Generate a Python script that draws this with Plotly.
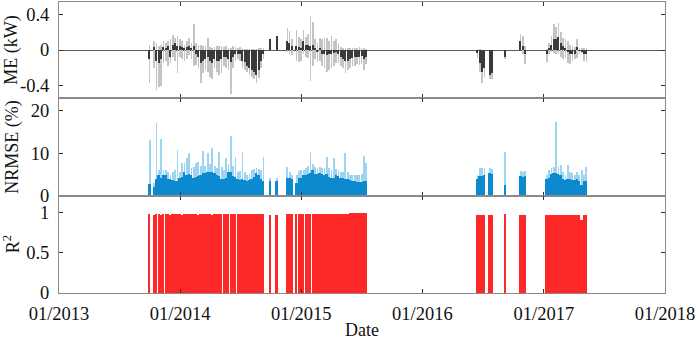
import pandas as pd
import plotly.graph_objects as go
from plotly.subplots import make_subplots

# ---- data (weekly summaries) ----
seg_start = ["2013-09-28", "2014-09-27", "2014-10-16", "2014-11-17",
             "2016-06-12", "2016-07-19", "2016-09-03", "2016-10-20", "2017-01-07"]
seg_weeks = [50, 1, 1, 35, 4, 2, 1, 3, 18]

me_typ = [
    -0.10, None, 0.03, -0.12, -0.15, -0.10, 0.03, 0.02, 0.04, -0.08,
    0.06, 0.08, 0.04, 0.04, 0.03, 0.02, 0.03, 0.05, 0.02, 0.04,
    -0.05, -0.08, -0.15, -0.12, -0.10, -0.08, -0.12, -0.15, -0.10, -0.12,
    -0.12, -0.10, -0.08, -0.08, -0.10, -0.14, -0.08, -0.05, -0.04, -0.05,
    -0.12, -0.14, -0.18, -0.20, -0.22, -0.25, -0.28, -0.22, -0.12, -0.05,
    0.12, 0.16,
    0.10, 0.08, 0.04, None, 0.05, 0.03, 0.02, 0.10, 0.06, 0.06,
    0.05, 0.06, 0.02, -0.02, 0.02, -0.04, -0.04, -0.06, -0.05, -0.04,
    -0.03, -0.02, -0.04, -0.08, -0.10, -0.12, -0.12, -0.10, -0.09, -0.08,
    -0.08, -0.08, -0.07, -0.10, -0.08,
    -0.03, -0.15, -0.25, -0.20,
    -0.28, -0.26,
    -0.08,
    0.10, 0.05, -0.05,
    -0.04, 0.02, 0.06, 0.12, 0.12, 0.15, 0.08, 0.04, 0.02, -0.02,
    -0.04, -0.05, -0.04, 0.03, -0.01, -0.02, -0.04, -0.05,
]
me_pos_peak = [
    0.06, None, 0.10, 0.08, 0.05, 0.06, 0.10, 0.08, 0.10, 0.12,
    0.17, 0.14, 0.16, 0.12, 0.10, 0.06, 0.10, 0.14, 0.08, 0.29,
    0.08, 0.06, 0.06, 0.05, 0.05, 0.14, 0.03, 0.02, 0.03, 0.04,
    0.05, 0.04, 0.03, 0.04, 0.02, 0.02, 0.04, 0.03, 0.02, 0.03,
    0.02, 0.01, 0.01, 0.01, 0.01, 0.01, 0.01, 0.02, 0.02, 0.02,
    0.12, 0.16,
    0.25, 0.21, 0.12, None, 0.23, 0.15, 0.12, 0.23, 0.15, 0.18,
    0.38, 0.31, 0.12, 0.08, 0.14, 0.12, 0.14, 0.14, 0.10, 0.16,
    0.10, 0.12, 0.08, 0.03, 0.02, 0.02, 0.02, 0.02, 0.02, 0.02,
    0.02, 0.03, 0.02, 0.02, 0.01,
    0.01, 0.01, 0.0, 0.0,
    0.0, 0.0,
    0.0,
    0.18, 0.16, 0.05,
    0.01, 0.08, 0.16, 0.29, 0.26, 0.30, 0.20, 0.14, 0.12, 0.10,
    0.06, 0.04, 0.03, 0.12, 0.02, 0.02, 0.02, 0.02,
]
me_neg_peak = [
    -0.37, None, -0.20, -0.45, -0.42, -0.40, -0.15, -0.12, -0.18, -0.15,
    -0.08, -0.12, -0.26, -0.08, -0.10, -0.12, -0.10, -0.06, -0.10, -0.18,
    -0.17, -0.20, -0.37, -0.26, -0.22, -0.25, -0.30, -0.33, -0.20, -0.25,
    -0.28, -0.26, -0.18, -0.20, -0.22, -0.50, -0.20, -0.12, -0.10, -0.12,
    -0.20, -0.22, -0.25, -0.28, -0.30, -0.33, -0.37, -0.32, -0.20, -0.10,
    None, None,
    -0.02, -0.05, -0.06, None, -0.12, -0.14, -0.12, -0.04, -0.08, -0.09,
    -0.35, -0.18, -0.10, -0.14, -0.12, -0.18, -0.20, -0.25, -0.22, -0.20,
    -0.18, -0.15, -0.15, -0.18, -0.20, -0.26, -0.22, -0.20, -0.18, -0.18,
    -0.16, -0.17, -0.16, -0.22, -0.16,
    -0.09, -0.25, -0.37, -0.30,
    -0.33, -0.33,
    -0.10,
    0.0, -0.05, -0.16,
    -0.14, -0.04, -0.02, -0.03, -0.05, -0.05, -0.08, -0.10, -0.09, -0.15,
    -0.16, -0.12, -0.10, -0.09, -0.05, -0.03, -0.12, -0.13,
]
nrmse_typ = [
    2.8, None, 2.0, 3.9, 4.8, 4.3, 5.0, 4.8, 3.9, 3.9,
    3.7, 3.5, 3.4, 4.2, 4.4, 5.6, 4.8, 5.1, 4.8, 4.2,
    4.4, 4.6, 4.8, 5.3, 5.3, 5.7, 5.7, 5.5, 5.3, 4.8,
    4.6, 3.9, 4.0, 4.2, 5.5, 5.7, 4.6, 4.4, 3.9, 3.8,
    3.9, 3.7, 3.5, 3.7, 3.9, 4.4, 5.3, 4.8, 3.9, 3.4,
    3.6, 3.6,
    4.2, 4.2, 3.9, None, 3.0, 4.2, 4.2, 4.8, 4.9, 5.1,
    5.3, 6.1, 5.1, 5.1, 5.3, 5.1, 4.9, 5.1, 4.4, 4.2,
    4.2, 4.8, 4.6, 4.2, 4.2, 4.0, 3.9, 3.7, 3.6, 3.6,
    3.3, 3.2, 3.3, 3.5, 3.5,
    3.9, 4.6, 4.6, 4.8,
    5.3, 5.1,
    2.5,
    4.6, 4.4, 4.6,
    3.9, 4.2, 5.1, 5.3, 5.3, 5.1, 4.8, 3.9, 3.7, 4.0,
    3.9, 3.7, 3.7, 3.9, 3.5, 2.6, 3.5, 3.5,
]
nrmse_peak = [
    13.0, None, 3.0, 16.9, 6.0, 13.2, 6.0, 6.0, 5.5, 5.0,
    5.5, 6.0, 10.7, 5.5, 7.6, 7.6, 8.8, 9.9, 6.5, 6.8,
    7.6, 8.0, 7.0, 10.5, 7.0, 9.9, 7.5, 11.1, 7.0, 6.5,
    10.3, 6.8, 6.0, 8.8, 7.5, 14.0, 7.0, 9.1, 5.5, 5.8,
    10.3, 5.5, 5.0, 5.2, 6.0, 6.2, 6.5, 6.3, 6.0, 9.1,
    4.1, 4.1,
    6.8, 5.5, 5.0, None, 5.0, 5.8, 6.0, 6.0, 6.5, 7.0,
    10.3, 7.5, 6.8, 6.5, 6.8, 6.5, 6.5, 9.1, 6.5, 6.0,
    8.8, 6.3, 6.0, 5.5, 5.5, 9.9, 5.5, 5.0, 5.0, 5.0,
    5.0, 4.8, 5.2, 9.4, 7.6,
    5.0, 6.4, 6.4, 6.4,
    6.4, 6.2,
    10.2,
    5.8, 5.5, 5.8,
    5.0, 6.0, 6.5, 6.8, 17.3, 7.0, 7.2, 5.5, 5.0, 7.1,
    5.5, 5.3, 5.0, 5.5, 4.8, 6.0, 5.0, 6.8,
]
r2 = [
    0.98, None, 0.97, 0.98, 0.98, 0.97, 0.98, 0.98, 0.98, 0.97,
    0.98, 0.98, 0.98, 0.98, 0.97, 0.98, 0.98, 0.98, 0.98, 0.98,
    0.98, 0.97, 0.98, 0.98, 0.98, 0.98, 0.98, 0.97, 0.98, 0.98,
    0.98, 0.98, 0.98, 0.98, 0.98, 0.98, 0.98, 0.98, 0.98, 0.98,
    0.98, 0.98, 0.98, 0.98, 0.98, 0.98, 0.98, 0.98, 0.98, 0.98,
    0.97, 0.97,
    0.98, 0.98, 0.98, None, 0.98, 0.98, 0.98, 0.98, 0.98, 0.98,
    0.98, 0.98, 0.98, 0.98, 0.98, 0.98, 0.98, 0.98, 0.98, 0.98,
    0.98, 0.98, 0.98, 0.98, 0.98, 0.98, 0.98, 0.99, 0.99, 0.99,
    0.99, 0.99, 0.99, 0.99, 0.99,
    0.97, 0.97, 0.97, 0.97,
    0.97, 0.97,
    0.98,
    0.97, 0.97, 0.97,
    0.97, 0.97, 0.97, 0.97, 0.97, 0.97, 0.97, 0.97, 0.97, 0.97,
    0.97, 0.97, 0.97, 0.97, 0.97, 0.90, 0.97, 0.97,
]

year_ticks = ["2013-01-01", "2014-01-01", "2015-01-01", "2016-01-01", "2017-01-01", "2018-01-01"]
year_labels = ["01/2013", "01/2014", "01/2015", "01/2016", "01/2017", "01/2018"]

# ---- week positions ----
dates = []
for s, n in zip(seg_start, seg_weeks):
    d0 = pd.Timestamp(s)
    for i in range(n):
        dates.append(d0 + pd.Timedelta(days=7 * i + 3))

DAY = 86400000
FONT = "Liberation Serif"

fig = make_subplots(rows=3, cols=1, shared_xaxes=True, vertical_spacing=0,
                    row_heights=[96, 98, 97])

# ME
fig.add_trace(go.Bar(x=dates, y=me_pos_peak, width=2 * DAY, marker_color="#c4c4c4",
                     marker_line_width=0, showlegend=False), row=1, col=1)
fig.add_trace(go.Bar(x=dates, y=me_neg_peak, width=2 * DAY, marker_color="#c4c4c4",
                     marker_line_width=0, showlegend=False), row=1, col=1)
fig.add_trace(go.Bar(x=dates, y=me_typ, width=4 * DAY, marker_color="#3a3a3a",
                     marker_line_width=0, showlegend=False), row=1, col=1)
# NRMSE
fig.add_trace(go.Bar(x=dates, y=nrmse_peak, width=2.5 * DAY, marker_color="#9dd4f1",
                     marker_line_width=0, showlegend=False), row=2, col=1)
fig.add_trace(go.Bar(x=dates, y=nrmse_typ, width=5.5 * DAY, marker_color="#0b8ad0",
                     marker_line_width=0, showlegend=False), row=2, col=1)
# R2
fig.add_trace(go.Bar(x=dates, y=r2, width=5.2 * DAY, marker_color="#ff2828",
                     marker_line_width=0, showlegend=False), row=3, col=1)

fig.update_layout(barmode="overlay", bargap=0)

axis_common = dict(showline=True, linecolor="#8a8a8a", linewidth=1, mirror="ticks",
                   ticks="inside", ticklen=4, tickcolor="#333333", showgrid=False,
                   automargin=False,
                   tickfont=dict(family=FONT, size=18.5, color="#111111"))

for r in (1, 2, 3):
    fig.update_xaxes(range=["2013-01-01", "2018-01-01"], tickvals=year_ticks,
                     ticktext=year_labels, showticklabels=(r == 3), zeroline=False,
                     ticklabelstandoff=4, row=r, col=1, **axis_common)

fig.update_yaxes(range=[-0.54, 0.54], tickvals=[-0.4, 0, 0.4], ticktext=["-0.4", "0", "0.4"],
                 zeroline=True, zerolinecolor="#5a5a5a", zerolinewidth=1,
                 ticklabelstandoff=5, row=1, col=1, **axis_common)
fig.update_yaxes(range=[0, 22.8], tickvals=[0, 10, 20], ticktext=["0", "10", "20"],
                 zeroline=False, ticklabelstandoff=5, row=2, col=1, **axis_common)
fig.update_yaxes(range=[0, 1.2], tickvals=[0, 0.5, 1], ticktext=["0", "0.5", "1"],
                 zeroline=False, ticklabelstandoff=5, row=3, col=1, **axis_common)

fig.update_layout(
    width=699, height=340,
    margin=dict(l=59, r=34, t=2, b=47, autoexpand=False),
    paper_bgcolor="white", plot_bgcolor="white",
    font=dict(family=FONT, size=18, color="#111111"),
)

# axis titles as annotations (aligned like the reference)
title_font = dict(family=FONT, size=18, color="#111111")
d1 = fig.layout.yaxis.domain
d2 = fig.layout.yaxis2.domain
d3 = fig.layout.yaxis3.domain
for text, dom in (("ME (kW)", d1), ("NRMSE (%)", d2), ("R<sup>2</sup>", d3)):
    fig.add_annotation(text=text, xref="paper", yref="paper", x=-0.078,
                       y=(dom[0] + dom[1]) / 2, textangle=-90, showarrow=False,
                       xanchor="center", yanchor="middle", font=title_font)
fig.add_annotation(text="Date", xref="paper", yref="paper", x=0.5, y=-0.127,
                   showarrow=False, xanchor="center", yanchor="middle", font=title_font)

fig.write_html("out.html", config={"displayModeBar": False},
               post_script="document.body.style.margin='0';document.body.style.overflow='hidden';")
